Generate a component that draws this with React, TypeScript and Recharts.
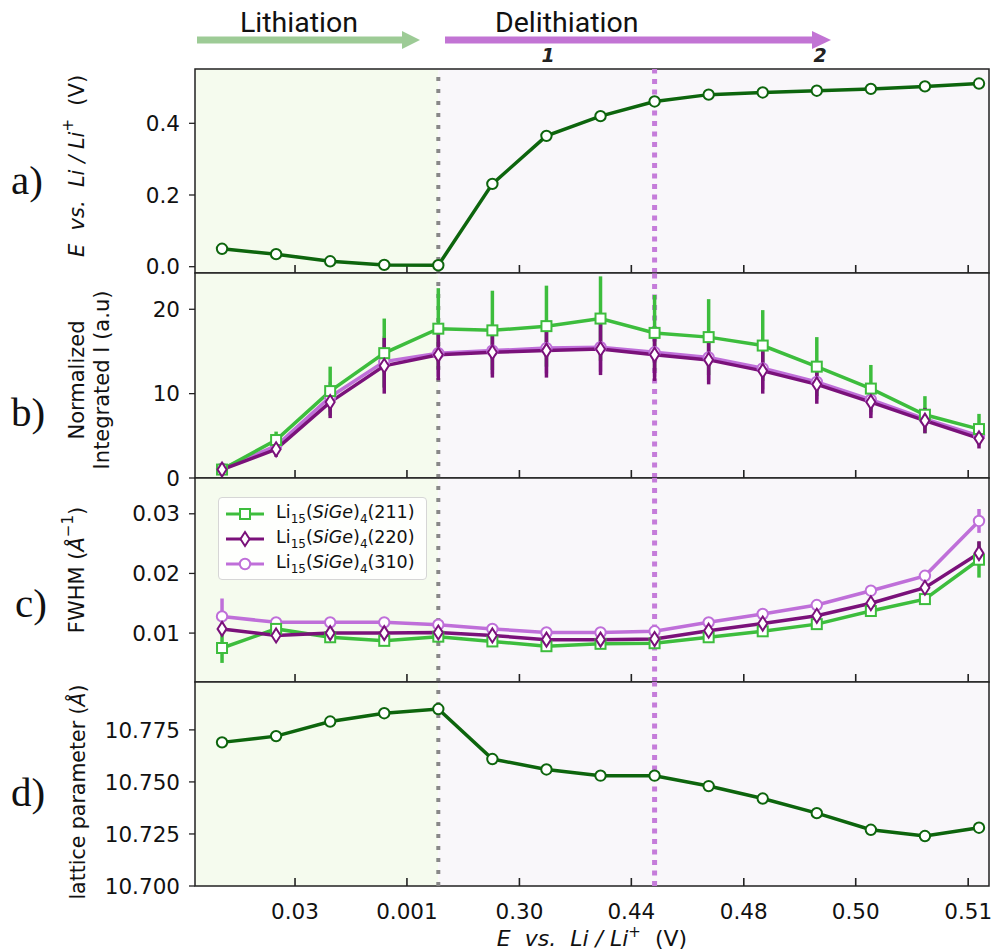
import React from "react";
import {
  LineChart,
  Line,
  XAxis,
  YAxis,
  ErrorBar,
  ReferenceArea,
  ReferenceLine,
  Legend,
} from "recharts";

// ---- data ----
const scanIndex = [0, 1, 2, 3, 4, 5, 6, 7, 8, 9, 10, 11, 12, 13, 14];
const xTickPositions = [1.35, 3.42, 5.5, 7.57, 9.65, 11.72, 13.8];
const xTickLabels = ["0.03", "0.001", "0.30", "0.44", "0.48", "0.50", "0.51"];
const lithiationEnd = 4; // gray dotted line
const delithStage1 = 8; // purple dotted line
const xMin = -0.5;
const xMax = 14.185;

const voltage = [0.05, 0.035, 0.015, 0.005, 0.004, 0.231, 0.365, 0.42, 0.461, 0.48, 0.486, 0.491, 0.496, 0.503, 0.511];

const intensity211 = [1.0, 4.5, 10.3, 14.8, 17.7, 17.5, 18.0, 18.9, 17.2, 16.7, 15.7, 13.2, 10.6, 7.5, 5.8];
const intensity211Err = [0.4, 1.0, 2.9, 4.1, 4.8, 4.7, 4.8, 5.0, 4.5, 4.5, 4.2, 3.5, 2.8, 2.2, 1.8];
const intensity220 = [1.0, 3.4, 9.0, 13.3, 14.6, 14.9, 15.1, 15.3, 14.6, 14.0, 12.7, 11.1, 9.0, 6.8, 4.7];
const intensity220Err = [0.6, 0.9, 1.9, 3.3, 3.0, 3.0, 3.2, 3.1, 3.1, 2.9, 2.7, 2.3, 1.9, 1.5, 1.2];
const intensity310 = [1.1, 3.8, 9.6, 13.8, 14.8, 15.1, 15.4, 15.5, 14.9, 14.3, 13.0, 11.4, 9.3, 7.0, 5.0];
const intensity310Err = [0.5, 0.8, 1.8, 3.0, 2.8, 2.8, 3.0, 2.9, 2.9, 2.7, 2.5, 2.1, 1.8, 1.4, 1.1];

const fwhm211 = [0.0075, 0.0107, 0.0093, 0.0087, 0.0094, 0.0086, 0.0078, 0.0082, 0.0083, 0.0093, 0.0103, 0.0115, 0.0137, 0.0157, 0.0223];
const fwhm211Err = [0.0025, 0.0004, 0.0003, 0.0003, 0.0003, 0.0003, 0.0003, 0.0003, 0.0003, 0.0003, 0.0003, 0.0003, 0.0004, 0.0005, 0.003];
const fwhm220 = [0.0107, 0.0096, 0.01, 0.01, 0.0101, 0.0096, 0.0089, 0.0089, 0.009, 0.0104, 0.0116, 0.0129, 0.015, 0.0176, 0.0234];
const fwhm220Err = [0.0004, 0.0004, 0.0003, 0.0003, 0.0003, 0.0003, 0.0003, 0.0003, 0.0003, 0.0003, 0.0003, 0.0003, 0.0004, 0.0005, 0.002];
const fwhm310 = [0.0128, 0.0118, 0.0118, 0.0118, 0.0114, 0.0107, 0.0101, 0.0101, 0.0103, 0.0118, 0.0132, 0.0147, 0.0171, 0.0196, 0.0288];
const fwhm310Err = [0.003, 0.0004, 0.0003, 0.0003, 0.0003, 0.0003, 0.0003, 0.0003, 0.0003, 0.0003, 0.0003, 0.0003, 0.0004, 0.0005, 0.002];

const lattice = [10.769, 10.772, 10.779, 10.783, 10.785, 10.761, 10.756, 10.753, 10.753, 10.748, 10.742, 10.735, 10.727, 10.724, 10.728];
const latticeErr = [0.0016, 0.0016, 0.0016, 0.0016, 0.0016, 0.0016, 0.0015, 0.0015, 0.0015, 0.0016, 0.0016, 0.0016, 0.0016, 0.0016, 0.0016];

const peaks = ["211", "220", "310"];
const drawOrder = ["310", "211", "220"];

const rows = scanIndex.map((idx, i) => ({
  idx,
  voltage: voltage[i],
  i211: intensity211[i],
  ie211: intensity211Err[i],
  i220: intensity220[i],
  ie220: intensity220Err[i],
  i310: intensity310[i],
  ie310: intensity310Err[i],
  w211: fwhm211[i],
  we211: fwhm211Err[i],
  w220: fwhm220[i],
  we220: fwhm220Err[i],
  w310: fwhm310[i],
  we310: fwhm310Err[i],
  lattice: lattice[i],
  latticeErr: latticeErr[i],
}));

// ---- styles ----
const DARK_GREEN = "#0D650D";
const peakStyle: Record<string, { color: string; shape: string }> = {
  "211": { color: "#3DBD3D", shape: "square" },
  "220": { color: "#7A117A", shape: "diamond" },
  "310": { color: "#BF6FD9", shape: "circle" },
};
const FONT = "DejaVu Sans";
const PAD = 14;
const W = 993;
const NB = "\u00a0";
const TICK_LEN = 8; // px, inward x ticks

function Marker({ cx, cy, shape, color }: any) {
  if (shape === "square")
    return <rect x={cx - 5} y={cy - 5} width={10} height={10} fill="#fff" stroke={color} strokeWidth={2} />;
  if (shape === "diamond")
    return (
      <polygon
        points={`${cx},${cy - 7} ${cx + 4.5},${cy} ${cx},${cy + 7} ${cx - 4.5},${cy}`}
        fill="#fff"
        stroke={color}
        strokeWidth={2}
      />
    );
  return <circle cx={cx} cy={cy} r={5.2} fill="#fff" stroke={color} strokeWidth={2} />;
}

const dotOf = (shape: string, color: string) => (props: any) => {
  const { cx, cy, index } = props;
  if (cx == null || cy == null) return <g key={`d-${index}`} />;
  return <Marker key={`d-${index}`} cx={cx} cy={cy} shape={shape} color={color} />;
};

function XTick(props: any) {
  const { x, y, payload, showLabel } = props;
  const i = xTickPositions.indexOf(payload.value);
  if (!showLabel) return <g />;
  return (
    <text x={x} y={y + 33} textAnchor="middle" fontSize={21.5} fill="#111" fontFamily={FONT}>
      {xTickLabels[i]}
    </text>
  );
}

function Rotated({ cx, cy, children, size = 21 }: any) {
  return (
    <text
      transform={`translate(${cx},${cy}) rotate(-90)`}
      textAnchor="middle"
      dominantBaseline="central"
      fontSize={size}
      fill="#111"
      fontFamily={FONT}
    >
      {children}
    </text>
  );
}

function PanelTitle({ shiftY, letter, letterX, letterY, body }: any) {
  return (
    <g transform={`translate(0,${-shiftY})`}>
      <text x={letterX} y={letterY} fontFamily="Liberation Serif" fontSize={41} fill="#111">
        {letter}
      </text>
      {body}
    </g>
  );
}

const potentialLabel = (
  <>
    <tspan fontStyle="italic">{`E${NB}${NB}vs.${NB}${NB}Li${NB}/${NB}Li`}</tspan>
    <tspan dy={-9} fontSize={15}>+</tspan>
    <tspan dy={9}>{`${NB}${NB}(V)`}</tspan>
  </>
);

function XTitle({ baseY }: any) {
  return (
    <text x={592} y={baseY} textAnchor="middle" fontSize={22} fill="#111" fontFamily={FONT}>
      {potentialLabel}
    </text>
  );
}

function FwhmLegend(props: any) {
  const items = [...(props.payload ?? [])].sort(
    (a: any, b: any) => peaks.indexOf(a.value) - peaks.indexOf(b.value)
  );
  return (
    <div
      style={{
        background: "rgba(255,255,255,0.85)",
        border: "1.5px solid #d6d6d6",
        borderRadius: 4,
        padding: "3px 6px 3px 5px",
        fontFamily: FONT,
        fontSize: 17.5,
        color: "#111",
        boxSizing: "border-box",
        width: 209,
      }}
    >
      {items.map((item: any) => {
        const st = peakStyle[item.value];
        return (
          <div key={item.value} style={{ display: "flex", alignItems: "center", height: 25 }}>
            <svg width={42} height={22}>
              <line x1={2} x2={40} y1={11} y2={11} stroke={st.color} strokeWidth={3} />
              <Marker cx={21} cy={11} shape={st.shape} color={st.color} />
            </svg>
            <span style={{ marginLeft: 10, whiteSpace: "nowrap" }}>
              Li<sub style={{ fontSize: 12 }}>15</sub>(<i>SiGe</i>)<sub style={{ fontSize: 12 }}>4</sub>({item.value})
            </span>
          </div>
        );
      })}
    </div>
  );
}

function Panel({ top, height, yDomain, yTicks, fmt, showXLabels, title, legend, children }: any) {
  const bottomExtra = showXLabels ? 66 : 0;
  const shift = top - PAD;
  const tickTop = yDomain[0] + ((yDomain[1] - yDomain[0]) * TICK_LEN) / height;
  return (
    <div style={{ position: "absolute", left: 0, top: shift }}>
      <LineChart
        width={W}
        height={height + 2 * PAD + bottomExtra}
        data={rows}
        margin={{ top: PAD, right: 4, bottom: PAD, left: 0 }}
      >
        <ReferenceArea x1={xMin} x2={lithiationEnd} y1={yDomain[0]} y2={yDomain[1]} fill="#F5FBEE" fillOpacity={1} stroke="none" />
        <ReferenceArea x1={lithiationEnd} x2={xMax} y1={yDomain[0]} y2={yDomain[1]} fill="#F9F7FA" fillOpacity={1} stroke="none" />
        {xTickPositions.map((t) => (
          <ReferenceLine
            key={`tick-${t}`}
            segment={[
              { x: t, y: yDomain[0] },
              { x: t, y: tickTop },
            ]}
            stroke="#222"
            strokeWidth={1.6}
          />
        ))}
        <ReferenceLine x={lithiationEnd} stroke="#888" strokeWidth={4} strokeDasharray="4 8" />
        <ReferenceLine x={delithStage1} stroke="#C57CDA" strokeWidth={5} strokeDasharray="5 5.5" />
        <XAxis
          type="number"
          dataKey="idx"
          domain={[xMin, xMax]}
          allowDataOverflow
          ticks={xTickPositions}
          interval={0}
          tickSize={0}
          tickMargin={0}
          axisLine={false}
          tickLine={false}
          height={bottomExtra}
          tick={<XTick showLabel={showXLabels} />}
          label={showXLabels ? <XTitle baseY={PAD + height + 60} /> : undefined}
        />
        <YAxis
          type="number"
          domain={yDomain}
          allowDataOverflow
          ticks={yTicks}
          interval={0}
          width={195}
          tickSize={6}
          tickMargin={9}
          axisLine={false}
          tickLine={{ stroke: "#222", strokeWidth: 1.3 }}
          tick={{ fontSize: 21.5, fill: "#111", fontFamily: FONT }}
          tickFormatter={fmt}
          label={<PanelTitle shiftY={shift} {...title} />}
        />
        {children}
        {legend}
        <ReferenceArea x1={xMin} x2={xMax} y1={yDomain[0]} y2={yDomain[1]} fill="none" stroke="#222" strokeWidth={1.5} />
      </LineChart>
    </div>
  );
}

function PhaseArrows() {
  return (
    <svg width={W} height={69} style={{ position: "absolute", left: 0, top: 0 }}>
      <line x1={197} x2={404} y1={40} y2={40} stroke="#9DCB96" strokeWidth={7} />
      <polygon points="402,31 420,40 402,49" fill="#9DCB96" />
      <line x1={445} x2={814} y1={40} y2={40} stroke="#C274D4" strokeWidth={7} />
      <polygon points="812,31 831,40 812,49" fill="#C274D4" />
      <text x={240} y={32} fontFamily="Roboto" fontSize={28.5} fill="#111">Lithiation</text>
      <text x={495} y={32} fontFamily="Roboto" fontSize={28.5} fill="#111">Delithiation</text>
      <text x={548} y={62} textAnchor="middle" fontFamily={FONT} fontStyle="italic" fontWeight="bold" fontSize={19} fill="#222">1</text>
      <text x={820} y={62} textAnchor="middle" fontFamily={FONT} fontStyle="italic" fontWeight="bold" fontSize={19} fill="#222">2</text>
    </svg>
  );
}

const peakLines = (prefix: string, errPrefix: string) =>
  drawOrder.map((p) => {
    const st = peakStyle[p];
    return (
      <Line
        key={p}
        name={p}
        type="linear"
        dataKey={`${prefix}${p}`}
        stroke={st.color}
        strokeWidth={3.5}
        dot={dotOf(st.shape, st.color)}
        activeDot={false}
        isAnimationActive={false}
      >
        <ErrorBar dataKey={`${errPrefix}${p}`} direction="y" width={0} stroke={st.color} strokeWidth={3.5} isAnimationActive={false} />
      </Line>
    );
  });

export default function App() {
  return (
    <div style={{ position: "absolute", left: 0, top: 0, width: W, height: 952, background: "#fff", overflow: "hidden" }}>
      <PhaseArrows />

      <Panel
        top={69}
        height={204}
        yDomain={[-0.0176, 0.5515]}
        yTicks={[0, 0.2, 0.4]}
        fmt={(v: number) => v.toFixed(1)}
        title={{
          letter: "a)",
          letterX: 11,
          letterY: 194,
          body: <Rotated cx={77} cy={166}>{potentialLabel}</Rotated>,
        }}
      >
        <Line
          type="linear"
          dataKey="voltage"
          stroke={DARK_GREEN}
          strokeWidth={3.5}
          dot={dotOf("circle", DARK_GREEN)}
          activeDot={false}
          isAnimationActive={false}
          legendType="none"
        />
      </Panel>

      <Panel
        top={273}
        height={205}
        yDomain={[0, 24.3]}
        yTicks={[0, 10, 20]}
        fmt={(v: number) => String(v)}
        title={{
          letter: "b)",
          letterX: 11,
          letterY: 426,
          body: (
            <>
              <Rotated cx={77} cy={380}>Normalized</Rotated>
              <Rotated cx={102} cy={380}>Integrated I (a.u)</Rotated>
            </>
          ),
        }}
      >
        {peakLines("i", "ie")}
      </Panel>

      <Panel
        top={478}
        height={204}
        yDomain={[0.0018, 0.036]}
        yTicks={[0.01, 0.02, 0.03]}
        fmt={(v: number) => v.toFixed(2)}
        title={{
          letter: "c)",
          letterX: 15,
          letterY: 617,
          body: (
            <Rotated cx={77} cy={570}>
              FWHM (<tspan fontStyle="italic">Å</tspan>
              <tspan dy={-9} fontSize={15}>−1</tspan>
              <tspan dy={9}>)</tspan>
            </Rotated>
          ),
        }}
        legend={
          <Legend
            layout="vertical"
            align="center"
            verticalAlign="middle"
            content={<FwhmLegend />}
            wrapperStyle={{ left: 218, top: 497 - (478 - PAD), width: 209, height: "auto" }}
          />
        }
      >
        {peakLines("w", "we")}
      </Panel>

      <Panel
        top={682}
        height={204}
        yDomain={[10.7, 10.798]}
        yTicks={[10.7, 10.725, 10.75, 10.775]}
        fmt={(v: number) => v.toFixed(3)}
        showXLabels
        title={{
          letter: "d)",
          letterX: 11,
          letterY: 806,
          body: (
            <Rotated cx={78} cy={792} size={20.5}>
              lattice parameter (<tspan fontStyle="italic">Å</tspan>)
            </Rotated>
          ),
        }}
      >
        <Line
          type="linear"
          dataKey="lattice"
          stroke={DARK_GREEN}
          strokeWidth={3.5}
          dot={dotOf("circle", DARK_GREEN)}
          activeDot={false}
          isAnimationActive={false}
          legendType="none"
        >
          <ErrorBar dataKey="latticeErr" direction="y" width={0} stroke={DARK_GREEN} strokeWidth={3} isAnimationActive={false} />
        </Line>
      </Panel>
    </div>
  );
}
